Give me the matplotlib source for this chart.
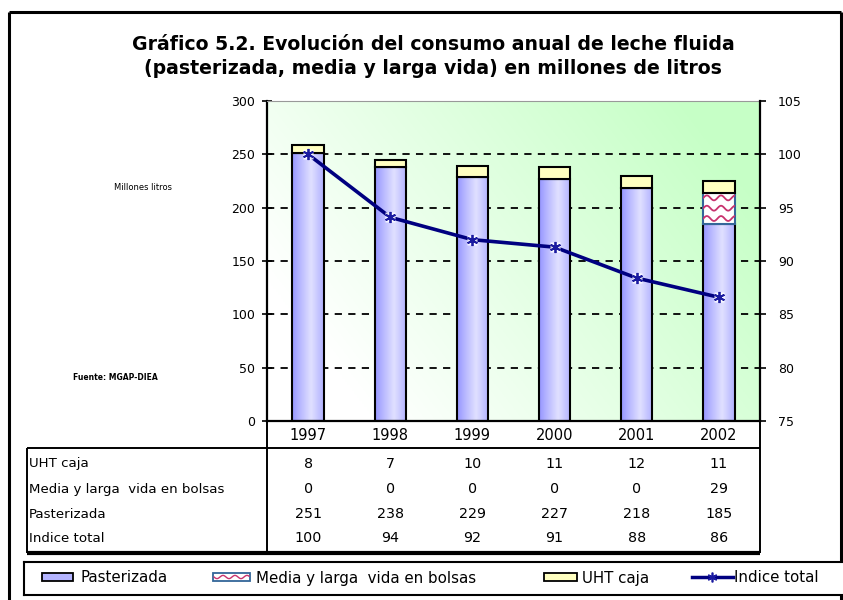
import matplotlib
matplotlib.use("Agg")
import matplotlib.pyplot as plt
import matplotlib.transforms as mtransforms
import numpy as np
from matplotlib.lines import Line2D
from matplotlib.patches import Rectangle

years = ["1997", "1998", "1999", "2000", "2001", "2002"]
uht_caja = [8, 7, 10, 11, 12, 11]
media_larga = [0, 0, 0, 0, 0, 29]
pasteurizada = [251, 238, 229, 227, 218, 185]
indice_total = [100, 94.1, 92.0, 91.3, 88.4, 86.6]

left_ticks = [0, 50, 100, 150, 200, 250, 300]
right_ticks = [75, 80, 85, 90, 95, 100, 105]

NAVY = "#000080"
UHT_COLOR = "#FFFFC0"
WAVE_COLOR = "#C8336E"
MEDIA_EDGE = "#336699"

W, H = 843, 600


def px_rect(left, top, right, bottom):
    return [left / W, 1 - bottom / H, (right - left) / W, (bottom - top) / H]


def wave_lines(ax, x0, x1, y0, y1, rows, amp, period, **kw):
    xs = np.linspace(x0, x1, 80)
    out = []
    for k in range(rows):
        yc = y0 + (y1 - y0) * (k + 0.5) / rows
        (ln,) = ax.plot(xs, yc + amp * np.sin(2 * np.pi * (xs - x0) / period), **kw)
        out.append(ln)
    return out


plt.rcParams.update({"font.family": "DejaVu Sans", "font.size": 9})
fig = plt.figure(figsize=(W / 100, H / 100), dpi=100)

# overlay in pixel units for frame, title, notes and table rules
ov = fig.add_axes([0, 0, 1, 1], zorder=-1)
ov.set_xlim(0, W)
ov.set_ylim(H, 0)
ov.axis("off")
frame = dict(color="black", lw=2.2, solid_capstyle="butt")
ov.plot([9, 841], [12, 12], **frame)
ov.plot([9, 9], [12, H], **frame)
ov.plot([841, 841], [12, H], **frame)
ov.text(433, 44, "Gráfico 5.2. Evolución del consumo anual de leche fluida",
        ha="center", va="center", fontsize=13.6, fontweight="bold")
ov.text(433, 68, "(pasterizada, media y larga vida) en millones de litros",
        ha="center", va="center", fontsize=13.6, fontweight="bold")
ov.text(143, 187, "Millones litros", ha="center", va="center", fontsize=6)
ov.text(115, 378, "Fuente: MGAP-DIEA", ha="center", va="center", fontsize=5.5,
        fontweight="bold")

# main chart
ax = fig.add_axes(px_rect(267, 101, 760, 421))
x = np.arange(len(years))
xlim = (-0.5, len(years) - 0.5)

# diagonal white -> green background
gx, gy = np.meshgrid(np.linspace(0, 1, 200), np.linspace(0, 1, 200))
t = np.clip(0.9 * gx + 0.45 * gy - 0.2, 0, 1)
green = np.array([0.78, 1.0, 0.78])
bg = 1 - t[..., None] * (1 - green)
ax.imshow(bg, extent=[xlim[0], xlim[1], 0, 300], origin="lower", aspect="auto", zorder=0)

ax.set_yticks(left_ticks)
ax.set_xticks([])
ax.grid(axis="y", color="black", lw=1.3, linestyle=(0, (4, 3.5)))
ax.set_axisbelow(True)
ax.yaxis.get_gridlines()[-1].set_visible(False)
ax.yaxis.get_gridlines()[0].set_visible(False)
ax.tick_params(axis="y", direction="inout", length=7, width=1.2, labelsize=9, pad=5)
for s in ["left", "bottom"]:
    ax.spines[s].set_linewidth(1.6)
ax.spines["top"].set_color("#999999")
ax.spines["right"].set_visible(False)

bw = 0.38
bars_p = ax.bar(x, pasteurizada, bw, facecolor="none", edgecolor="black", lw=1.5, zorder=3)
bars_m = ax.bar(x, media_larga, bw, bottom=pasteurizada, facecolor="white",
                edgecolor=MEDIA_EDGE, lw=1.5, zorder=3)
bottom_uht = np.array(pasteurizada) + np.array(media_larga)
ax.bar(x, uht_caja, bw, bottom=bottom_uht, facecolor=UHT_COLOR, edgecolor="black",
       lw=1.5, zorder=3)

# lavender gradient for pasteurizada bars
u = np.linspace(0, 1, 64)
shade = np.clip(1 - np.abs(u - 0.6) / 0.6, 0, 1) ** 0.9
lav = np.stack([0.58 + 0.3 * shade, 0.58 + 0.3 * shade, np.ones_like(shade)], axis=-1)[None]
for r in bars_p:
    x0, y0, w, h = r.get_x(), r.get_y(), r.get_width(), r.get_height()
    im = ax.imshow(lav, extent=[x0, x0 + w, y0, y0 + h], aspect="auto", zorder=2.5)
    im.set_clip_path(r)

# wavy pattern on the "media y larga vida" segments
for r in bars_m:
    x0, y0, w, h = r.get_x(), r.get_y(), r.get_width(), r.get_height()
    if h <= 0:
        continue
    for ln in wave_lines(ax, x0, x0 + w, y0, y0 + h, 3, 2.3, w / 2.2,
                         color=WAVE_COLOR, lw=1.3, zorder=3.2):
        ln.set_clip_path(r)

ax.set_xlim(*xlim)
ax.set_ylim(0, 300)

# index on the secondary axis
ax2 = ax.twinx()
ax2.set_ylim(75, 105)
ax2.set_yticks(right_ticks)
ax2.tick_params(axis="y", direction="out", length=4, width=1.2, labelsize=9, pad=9)
ax2.spines["right"].set_linewidth(1.6)
for s in ["left", "top", "bottom"]:
    ax2.spines[s].set_visible(False)
ax2.plot(x, indice_total, color=NAVY, lw=2.6, zorder=4)
ax2.plot(x, indice_total, ls="none", marker="s", ms=7, mfc="white", mec="none",
         alpha=0.85, zorder=5)
ax2.plot(x, indice_total, ls="none", marker=(6, 2, 0), ms=8, mec="#1a1aa0",
         mew=1.3, zorder=6)

# data table below the chart
ty = mtransforms.blended_transform_factory(ax.transData, ov.transData)
rule = dict(color="black", lw=1.4, solid_capstyle="butt")
ov.plot([27, 760], [448, 448], **rule)
ov.plot([27, 27], [448, 553], **rule)
ov.plot([267, 267], [421, 553], **rule)
ov.plot([760, 760], [421, 553], **rule)
ov.plot([27, 760], [553, 553], color="black", lw=3, solid_capstyle="butt")

for i, yr in enumerate(years):
    ov.text(i, 436, yr, transform=ty, ha="center", va="center", fontsize=10.5)

rows = [
    ("UHT caja", uht_caja),
    ("Media y larga  vida en bolsas", media_larga),
    ("Pasterizada", pasteurizada),
    ("Indice total", [int(v) for v in indice_total]),
]
row_y = [464, 489, 514, 538]
for (label, vals), yy in zip(rows, row_y):
    ov.text(29, yy, label, ha="left", va="center", fontsize=9.6)
    for i, v in enumerate(vals):
        ov.text(i, yy, str(v), transform=ty, ha="center", va="center", fontsize=10.3)

# legend box, entries placed by hand like the original
lax = fig.add_axes(px_rect(24, 562, 843, 595))
lax.set_xlim(24, 843)
lax.set_ylim(595, 562)
lax.set_xticks([])
lax.set_yticks([])
for s in lax.spines.values():
    s.set_linewidth(1.5)
lax.spines["right"].set_visible(False)

ly = 577
patch_h = 8
lax.add_patch(Rectangle((42, ly - patch_h / 2), 31, patch_h, facecolor="#B4B4FF",
                        edgecolor="black", lw=1.3))
lax.text(81, ly + 1, "Pasterizada", ha="left", va="center", fontsize=10.8)

lax.add_patch(Rectangle((213, ly - patch_h / 2), 37, patch_h, facecolor="white",
                        edgecolor=MEDIA_EDGE, lw=1.3))
wave_lines(lax, 214, 249, ly - patch_h / 2, ly + patch_h / 2, 1, 1.6, 12,
           color=WAVE_COLOR, lw=1)
lax.text(256, ly + 1, "Media y larga  vida en bolsas", ha="left", va="center", fontsize=10.8)

lax.add_patch(Rectangle((544, ly - patch_h / 2), 33, patch_h, facecolor=UHT_COLOR,
                        edgecolor="black", lw=1.3))
lax.text(582, ly + 1, "UHT caja", ha="left", va="center", fontsize=10.8)

lax.plot([692, 733], [ly, ly], color=NAVY, lw=2.5)
lax.plot([712], [ly], marker=(6, 2, 0), ms=7, mec="#1a1aa0", mew=1.2)
lax.text(734, ly + 1, "Indice total", ha="left", va="center", fontsize=10.8)

fig.savefig("out.png", dpi=100, facecolor="white")
